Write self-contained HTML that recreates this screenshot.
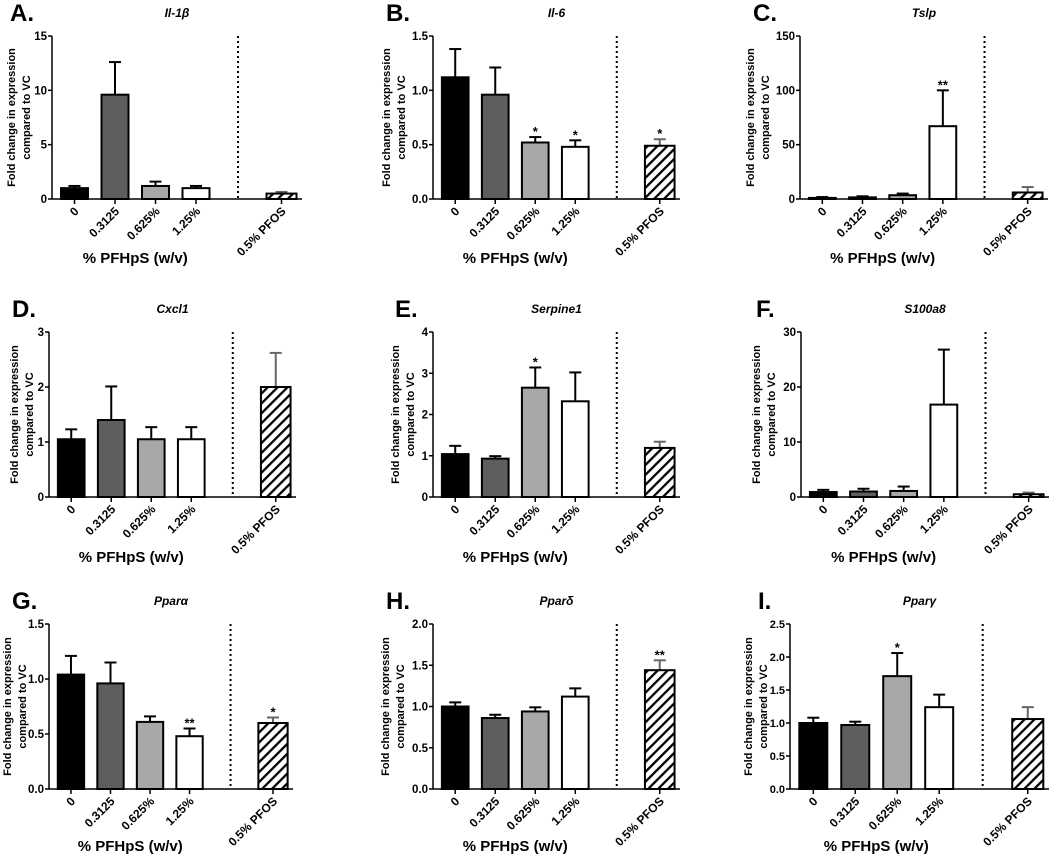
<!DOCTYPE html>
<html><head><meta charset="utf-8"><style>
html,body{margin:0;padding:0;background:#fff;}
svg{display:block;font-family:"Liberation Sans",Arial,sans-serif;}
</style></head><body>
<svg id="fig" width="1050" height="857" viewBox="0 0 1050 857">
<defs>
<pattern id="hatch" patternUnits="userSpaceOnUse" width="7" height="7" patternTransform="rotate(45)">
<rect width="7" height="7" fill="#fff"/><rect x="0" y="0" width="2.3" height="7" fill="#000"/>
</pattern>
</defs>
</svg>
<script>
const categories = ["0","0.3125","0.625%","1.25%","0.5% PFOS"];
const panelLetters = ["A.","B.","C.","D.","E.","F.","G.","H.","I."];
const geneNames = ["Il-1β","Il-6","Tslp","Cxcl1","Serpine1","S100a8","Pparα","Pparδ","Pparγ"];
const yMax = [15,1.5,150,3,4,30,1.5,2.0,2.5];
const yStep = [5,0.5,50,1,1,10,0.5,0.5,0.5];
const tickDecimals = [0,1,0,0,0,0,1,1,1];
const valuesA = [1.0,9.6,1.2,1.0,0.5];
const errorsA = [1.2,12.6,1.6,1.2,0.65];
const valuesB = [1.12,0.96,0.52,0.48,0.49];
const errorsB = [1.38,1.21,0.57,0.54,0.55];
const valuesC = [1,1.5,3.5,67,6];
const errorsC = [1.8,2.5,5,100,11];
const valuesD = [1.05,1.4,1.05,1.05,2.0];
const errorsD = [1.23,2.01,1.27,1.27,2.62];
const valuesE = [1.04,0.93,2.65,2.32,1.19];
const errorsE = [1.24,0.99,3.14,3.02,1.34];
const valuesF = [0.9,1.0,1.1,16.8,0.5];
const errorsF = [1.3,1.5,1.9,26.8,0.8];
const valuesG = [1.04,0.96,0.61,0.48,0.60];
const errorsG = [1.21,1.15,0.66,0.55,0.65];
const valuesH = [1.0,0.86,0.94,1.12,1.44];
const errorsH = [1.05,0.90,0.99,1.22,1.56];
const valuesI = [1.0,0.97,1.71,1.24,1.06];
const errorsI = [1.08,1.02,2.06,1.43,1.24];
const starsA = ["","","","",""];
const starsB = ["","","*","*","*"];
const starsC = ["","","","**",""];
const starsD = ["","","","",""];
const starsE = ["","","*","",""];
const starsF = ["","","","",""];
const starsG = ["","","","**","*"];
const starsH = ["","","","","**"];
const starsI = ["","","*","",""];

const allValues=[valuesA,valuesB,valuesC,valuesD,valuesE,valuesF,valuesG,valuesH,valuesI];
const allErrors=[errorsA,errorsB,errorsC,errorsD,errorsE,errorsF,errorsG,errorsH,errorsI];
const allStars=[starsA,starsB,starsC,starsD,starsE,starsF,starsG,starsH,starsI];

const axX0=[52,433,800,49,433,801,49,433,790];
const axX1=[302,680,1048,296,680,1049,293,680,1049];
const rowTop=[36,332,624], rowZero=[199,497,789];
const titleBase=[17,313,605];
const letterX=[10,386,753,12,395,756,12,386,758];
const ytX=[11,386,750,14,395,756,7,385,748];
const tickFont=[11.5,11.5,11.5,11.5,11.5,11.5,11.5,11.5,11];
const fills=["#000","#5e5e5e","#a8a8a8","#fff","url(#hatch)"];
const slot=[0.09,0.252,0.414,0.576,0.918];
const NS="http://www.w3.org/2000/svg";
const svg=document.getElementById('fig');
function mk(tag,attrs,parent,text){const e=document.createElementNS(NS,tag);for(const k in attrs)e.setAttribute(k,attrs[k]);if(text!==undefined)e.textContent=text;(parent||svg).appendChild(e);return e;}

for(let p=0;p<9;p++){
  const r=Math.floor(p/3);
  const x0=axX0[p],x1=axX1[p],W=x1-x0,top=rowTop[r],zero=rowZero[r];
  const yS=v=>zero-(v/yMax[p])*(zero-top);
  const xS=i=>x0+slot[i]*W;
  const g=mk('g',{});
  
  
  const lt=mk('text',{x:letterX[p],y:titleBase[r]+4,'font-size':24,'font-weight':'bold'},g,panelLetters[p]);
  
  
  const gt=mk('text',{x:x0+W*0.5,y:titleBase[r],'font-size':12,'font-weight':'bold','font-style':'italic','text-anchor':'middle'},g,geneNames[p]);
  
  
  const cy=(top+zero)/2;
  const yt=mk('text',{transform:`translate(${ytX[p]+4},${cy}) rotate(-90)`,'font-size':11,'font-weight':'bold','text-anchor':'middle'},g);
  
  
  mk('tspan',{x:0,dy:0},yt,'Fold  change in expression');
  mk('tspan',{x:0,dy:15},yt,'compared to VC');
  const ya=mk('line',{x1:x0,y1:top,x2:x0,y2:zero,stroke:'#000','stroke-width':1.5},g);
  
  
  const xa=mk('line',{x1:x0,y1:zero,x2:x1,y2:zero,stroke:'#000','stroke-width':1.5},g);
  
  
  for(let v=0;v<=yMax[p]+1e-9;v+=yStep[p]){
    const y=yS(v);
    mk('line',{x1:x0-4,y1:y,x2:x0,y2:y,stroke:'#000','stroke-width':1.5},g);
    const tl=mk('text',{x:x0-5,y:y+4,'font-size':tickFont[p],'font-weight':'bold','text-anchor':'end'},g,v.toFixed(tickDecimals[p]));
    
    
  }
  const dl=mk('line',{x1:x0+0.744*W,y1:top,x2:x0+0.744*W,y2:zero,stroke:'#000','stroke-width':2,'stroke-dasharray':'2,3'},g);
  
  
  const vals=allValues[p],errs=allErrors[p],stars=allStars[p];
  for(let i=0;i<5;i++){
    const cx=xS(i),bw=i===4?0.12*W:0.108*W;
    const yv=yS(vals[i]),ye=yS(errs[i]);
    const ec=i===4?'#666':'#000';
    mk('line',{x1:cx,y1:yv,x2:cx,y2:ye,stroke:ec,'stroke-width':2},g);
    mk('line',{x1:cx-6,y1:ye,x2:cx+6,y2:ye,stroke:ec,'stroke-width':2},g);
    const b=mk('rect',{x:cx-bw/2,y:yv,width:bw,height:Math.max(zero-yv,0.5),fill:fills[i],stroke:'#000','stroke-width':2},g);
    
    
    mk('line',{x1:cx,y1:zero,x2:cx,y2:zero+5,stroke:'#000','stroke-width':1.5},g);
    if(stars[i]){
      const st=mk('text',{x:cx,y:ye-1,'font-size':13,'font-weight':'bold','text-anchor':'middle'},g,stars[i]);
      
      
    }
    const xl=mk('text',{transform:`translate(${cx+5},${zero+13}) rotate(-45)`,'font-size':12,'font-weight':'bold','text-anchor':'end'},g,categories[i]);
    
    
  }
  const xt=mk('text',{x:x0+0.333*W,y:(r===0?263:(r===1?562:851)),'font-size':15,'font-weight':'bold','text-anchor':'middle'},g,'% PFHpS (w/v)');
  
  
}
</script>
</body></html>
